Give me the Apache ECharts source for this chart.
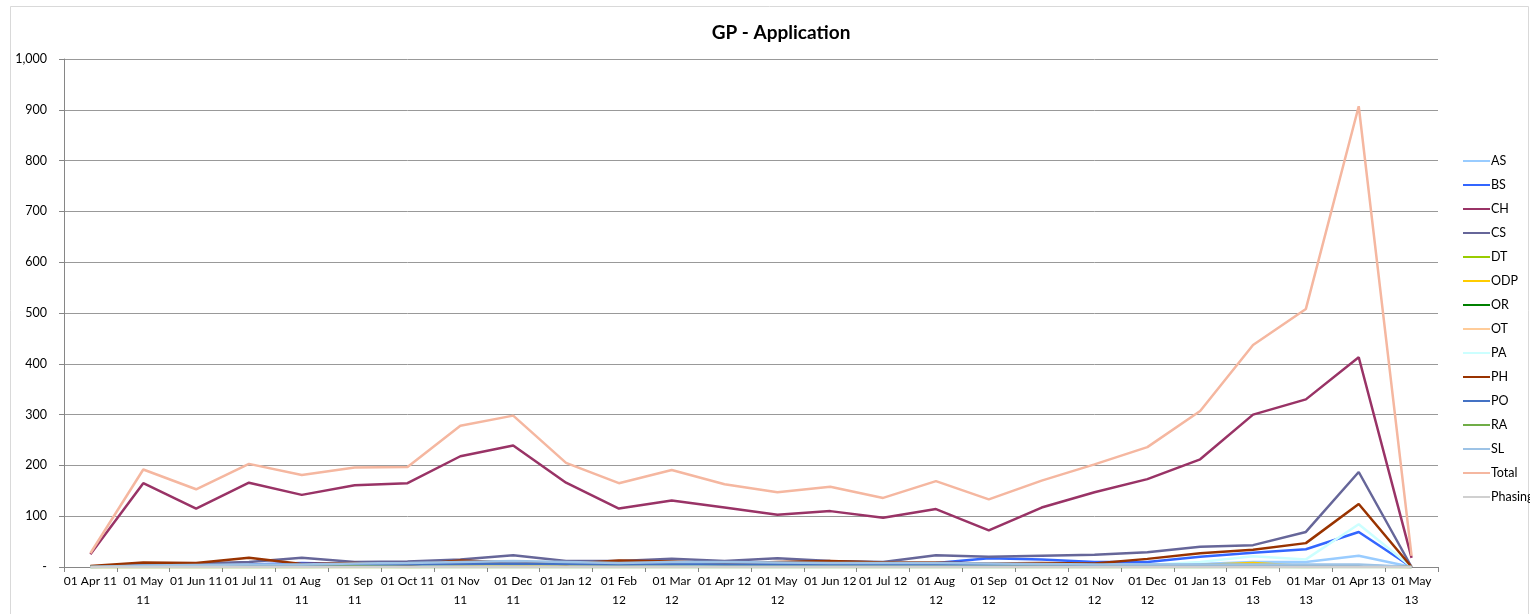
<!DOCTYPE html>
<html>
<head>
<meta charset="utf-8">
<title>GP - Application</title>
<script src="https://cdn.jsdelivr.net/npm/echarts@6/dist/echarts.min.js"></script>
<style>
  html, body { margin: 0; padding: 0; background: #ffffff; }
  #chart { width: 1530px; height: 614px; }
</style>
</head>
<body>
<div id="chart"></div>
<script>
// Months on the category axis
const months = ['Apr 11','May 11','Jun 11','Jul 11','Aug 11','Sep 11','Oct 11','Nov 11','Dec 11',
  'Jan 12','Feb 12','Mar 12','Apr 12','May 12','Jun 12','Jul 12','Aug 12','Sep 12','Oct 12','Nov 12','Dec 12',
  'Jan 13','Feb 13','Mar 13','Apr 13','May 13'];

// Tick labels as printed under the axis (long ones wrap to two lines)
const tickLabels = ['01 Apr 11','01 May\n11','01 Jun 11','01 Jul 11','01 Aug\n11','01 Sep\n11','01 Oct 11','01 Nov\n11','01 Dec\n11',
  '01 Jan 12','01 Feb\n12','01 Mar\n12','01 Apr 12','01 May\n12','01 Jun 12','01 Jul 12','01 Aug\n12','01 Sep\n12','01 Oct 12','01 Nov\n12','01 Dec\n12',
  '01 Jan 13','01 Feb\n13','01 Mar\n13','01 Apr 13','01 May\n13'];

// Monthly application counts per group
const AS  = [0, 2, 2, 3, 3, 4, 4, 5, 6, 5, 5, 6, 5, 5, 5, 4, 5, 5, 4, 4, 4, 6, 10, 10, 22, 0];
const BS  = [1, 3, 4, 5, 8, 6, 9, 12, 5, 5, 6, 9, 8, 7, 6, 7, 8, 17, 15, 10, 10, 20, 28, 35, 69, 0];
const CH  = [25, 165, 115, 166, 142, 161, 165, 218, 239, 166, 115, 131, 117, 103, 110, 97, 114, 72, 117, 147, 173, 212, 300, 330, 413, 18];
const CS  = [1, 5, 7, 10, 18, 10, 11, 15, 23, 12, 12, 16, 12, 17, 12, 10, 23, 20, 22, 24, 29, 40, 43, 69, 187, 0];
const DT  = [0, 0, 0, 0, 0, 0, 0, 0, 0, 0, 0, 0, 0, 0, 0, 0, 0, 0, 0, 0, 0, 0, 1, 0, 1, 0];
const ODP = [0, 0, 0, 0, 0, 0, 0, 1, 1, 2, 3, 3, 2, 1, 1, 1, 1, 1, 1, 1, 1, 4, 8, 2, 2, 0];
const OR  = [0, 0, 0, 0, 0, 0, 0, 0, 0, 0, 0, 0, 0, 0, 0, 0, 0, 0, 0, 0, 0, 0, 0, 0, 0, 0];
const OT  = [0, 0, 1, 1, 1, 1, 1, 1, 1, 1, 1, 1, 1, 1, 1, 1, 1, 1, 1, 1, 1, 1, 1, 1, 1, 0];
const PA  = [0, 1, 2, 3, 3, 4, 4, 6, 6, 6, 5, 5, 4, 4, 4, 4, 4, 4, 4, 3, 4, 10, 21, 15, 84, 0];
const PH  = [2, 9, 8, 18, 6, 8, 4, 13, 9, 6, 13, 11, 7, 10, 12, 9, 9, 7, 8, 7, 16, 27, 34, 47, 124, 0];
const PO  = [0, 2, 3, 3, 4, 4, 5, 6, 7, 6, 5, 6, 5, 5, 5, 5, 5, 5, 5, 4, 4, 4, 4, 3, 3, 0];
const RA  = [0, 0, 0, 0, 0, 1, 0, 0, 0, 0, 0, 0, 0, 0, 0, 0, 0, 0, 0, 0, 0, 0, 0, 0, 0, 0];
const SL  = [0, 3, 4, 5, 5, 7, 8, 10, 12, 10, 8, 10, 10, 9, 8, 8, 8, 7, 6, 5, 5, 5, 5, 5, 5, 0];
const Total = [27, 192, 153, 203, 181, 196, 197, 278, 298, 205, 165, 191, 163, 147, 158, 136, 169, 133, 170, 202, 236, 307, 437, 508, 907, 22];
const Phasing = [0, 0, 0, 0, 0, 0, 0, 0, 0, 0, 0, 0, 0, 0, 0, 0, 0, 0, 0, 0, 0, 0, 0, 0, 0, 0];

const seriesDefs = [
  { name: 'AS', data: AS, color: '#99CCFF' },
  { name: 'BS', data: BS, color: '#3366FF' },
  { name: 'CH', data: CH, color: '#993366' },
  { name: 'CS', data: CS, color: '#666699' },
  { name: 'DT', data: DT, color: '#99CC00' },
  { name: 'ODP', data: ODP, color: '#FFCC00' },
  { name: 'OR', data: OR, color: '#008000' },
  { name: 'OT', data: OT, color: '#FFCC99' },
  { name: 'PA', data: PA, color: '#CCFFFF' },
  { name: 'PH', data: PH, color: '#993300' },
  { name: 'PO', data: PO, color: '#4472C4' },
  { name: 'RA', data: RA, color: '#70AD47' },
  { name: 'SL', data: SL, color: '#9DC3E6' },
  { name: 'Total', data: Total, color: '#F5B7A0' },
  { name: 'Phasing', data: Phasing, color: '#D0D0D0' }
];

const FONT = 'Lato, "Open Sans", "Liberation Sans", sans-serif';
const chart = echarts.init(document.getElementById('chart'), null, { renderer: 'canvas' });

chart.setOption({
  backgroundColor: '#ffffff',
  animation: false,
  graphic: [{
    type: 'rect',
    shape: { x: 10.5, y: 6.5, width: 1518, height: 640 },
    style: { fill: 'none', stroke: '#D9D9D9', lineWidth: 1 },
    silent: true,
    z: -10
  }],
  title: {
    text: 'GP - Application',
    left: 776,
    top: 18,
    textAlign: 'center',
    textStyle: { fontFamily: FONT, fontSize: 19, fontWeight: 'bold', color: '#000000' }
  },
  grid: { left: 64, right: 92, top: 59, bottom: 47, containLabel: false },
  legend: {
    orient: 'vertical',
    left: 1458,
    top: 149,
    icon: 'rect',
    itemWidth: 27,
    itemHeight: 2,
    itemGap: 10,
    selectedMode: false,
    textStyle: { fontFamily: FONT, fontSize: 12.5, color: '#000000', lineHeight: 14, padding: [0, 0, 0, -4] },
    data: seriesDefs.map(s => s.name)
  },
  xAxis: {
    type: 'category',
    data: months,
    boundaryGap: true,
    axisLine: { show: true, lineStyle: { color: '#868686', width: 1 } },
    axisTick: { show: true, length: 5, lineStyle: { color: '#868686' } },
    axisLabel: {
      interval: 0,
      margin: 5,
      fontFamily: FONT,
      fontSize: 12,
      lineHeight: 19,
      color: '#000000',
      formatter: (v, i) => tickLabels[i]
    },
    splitLine: { show: false }
  },
  yAxis: {
    type: 'value',
    min: 0,
    max: 1000,
    interval: 100,
    axisLine: { show: true, lineStyle: { color: '#868686', width: 1 } },
    axisTick: { show: true, length: 5, lineStyle: { color: '#868686' } },
    axisLabel: {
      margin: 17,
      fontFamily: FONT,
      fontSize: 12.5,
      color: '#000000',
      formatter: v => v === 0 ? '-' : v.toLocaleString('en-US')
    },
    splitLine: { show: true, lineStyle: { color: '#999999', width: 1 } }
  },
  series: seriesDefs.map(s => ({
    name: s.name,
    type: 'line',
    data: s.data,
    symbol: 'none',
    showSymbol: false,
    color: s.color,
    lineStyle: { color: s.color, width: 2.5 },
    itemStyle: { color: s.color },
    emphasis: { disabled: true }
  }))
});
</script>
</body>
</html>
